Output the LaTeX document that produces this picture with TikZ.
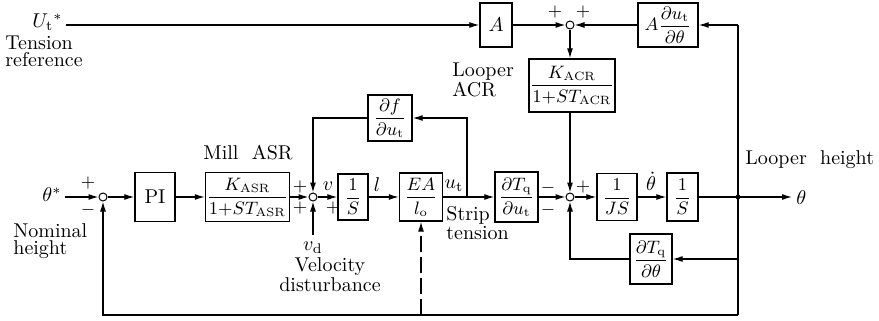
\documentclass[tikz,border=0pt]{standalone}
\usepackage{amsmath}
\usetikzlibrary{arrows.meta, positioning, calc}
\tikzset{
    block/.style={draw, rectangle, line width=0.7pt, inner sep=0.5pt, align=center, font=\small},
    sumj/.style={draw, circle, line width=0.5pt, inner sep=0pt, minimum size=4pt, fill=white},
    arrow/.style={-{Latex[length=5pt, width=3pt]}, line width=0.6pt},
    wire/.style={line width=0.6pt},
    sign/.style={inner sep=0pt, font=\small},
    lbl/.style={inner sep=0pt, align=left, font=\fontsize{10}{8.5}\selectfont}
}

\begin{document}
\begin{tikzpicture}[x=0.5pt, y=-0.5pt]
    \useasboundingbox (0,0) rectangle (879,321);

    % Tension reference path (top row)
    \node[block, minimum width=16pt, minimum height=22pt, font=\normalsize] (ablk) at (496,25) {$A$};
    \node[sumj] (sumD) at (570,25) {};
    \node[block, minimum width=30pt, minimum height=22pt] (adu) at (668,25) {$A\dfrac{\partial u_{\mathrm{t}}}{\partial\theta}$};
    \node[block, minimum width=42pt, minimum height=26.5pt] (acr) at (572,85.5) {$\dfrac{K_{\mathrm{ACR}}}{1{+}ST_{\mathrm{ACR}}}$};

    % Main loop (middle row)
    \node[sumj] (sumA) at (103,197) {};
    \node[block, minimum width=20pt, minimum height=24.5pt, font=\normalsize] (pi) at (155,197) {PI};
    \node[block, minimum width=39.5pt, minimum height=24.5pt] (asr) at (247.5,197) {$\dfrac{K_{\mathrm{ASR}}}{1{+}ST_{\mathrm{ASR}}}$};
    \node[sumj] (sumB) at (313,197) {};
    \node[block, minimum width=15pt, minimum height=23pt] (sint) at (353,197) {$\dfrac{1}{S}$};
    \node[block, minimum width=21.5pt, minimum height=24pt] (ea) at (421,197) {$\dfrac{EA}{l_{\mathrm{o}}}$};
    \node[block, minimum width=21.5pt, minimum height=25pt] (dtdu) at (516.5,197) {$\dfrac{\partial T_{\mathrm{q}}}{\partial u_{\mathrm{t}}}$};
    \node[sumj] (sumC) at (570,197) {};
    \node[block, minimum width=20pt, minimum height=23.5pt] (js) at (617,197) {$\dfrac{1}{JS}$};
    \node[block, minimum width=15.5pt, minimum height=24pt] (sth) at (682.5,197) {$\dfrac{1}{S}$};

    % Feedback blocks
    \node[block, minimum width=22pt, minimum height=23pt] (dfdu) at (390,118) {$\dfrac{\partial f}{\partial u_{\mathrm{t}}}$};
    \node[block, minimum width=21pt, minimum height=25pt] (dtdth) at (651,259) {$\dfrac{\partial T_{\mathrm{q}}}{\partial\theta}$};

    % Free ends and branch points
    \coordinate (uin) at (66,25);
    \coordinate (thin) at (65,197);
    \coordinate (tapR) at (738,25);
    \coordinate (tapM) at (738,197);
    \coordinate (tapQ) at (738,259);
    \coordinate (tapB) at (738,315);
    \coordinate (fbL) at (103,315);
    \coordinate (fbE) at (421,315);
    \coordinate (thout) at (792,197);
    \coordinate (utap) at (467,197);
    \coordinate (vdin) at (313,235);

    % Top row connectors
    \draw[arrow] (uin) -- (ablk);
    \draw[arrow] (ablk) -- (sumD);
    \draw[arrow] (adu) -- (sumD);
    \draw[arrow] (sumD) -- (sumD |- acr.north);
    \draw[arrow] (acr.south -| sumC) -- (sumC);
    \draw[arrow] (tapR) -- (adu);
    \draw[wire] (tapR) -- (tapB);

    % Forward path
    \foreach \u/\v in {thin/sumA, sumA/pi, pi/asr, asr/sumB, sumB/sint, sint/ea, ea/dtdu, dtdu/sumC, sumC/js, js/sth} {
        \draw[arrow] (\u) -- (\v);
    }
    \draw[wire] (sth) -- (tapM);
    \draw[arrow] (tapM) -- (thout);
    \fill (tapM) circle (1.2pt);

    % Feedback paths
    \draw[arrow] (utap) |- (dfdu);
    \draw[arrow] (dfdu) -| (sumB);
    \draw[arrow] (vdin) -- (sumB);
    \draw[arrow] (tapQ) -- (dtdth);
    \draw[arrow] (dtdth) -| (sumC);
    \draw[arrow] (tapB) -- (fbL) -- (sumA);
    \draw[arrow, dash pattern=on 8pt off 2.5pt] (fbE) -- (ea);

    % Signs at the summing points
    \foreach \pos/\s in {{(88,183)}/+, {(88,210)}/$-$, {(300,187)}/+, {(300,208)}/+, {(333,208)}/+,
                         {(548,188)}/$-$, {(548,210)}/$-$, {(583,187)}/+, {(555,12)}/+, {(583,12)}/+} {
        \node[sign] at \pos {\s};
    }

    % Signal names and captions
    \node[lbl, anchor=east] (ulbl) at (63,22) {$U_{\mathrm{t}}{}^{*}$};
    \node[lbl, anchor=west] (ucap) at (5,51) {Tension\\reference};
    \node[lbl, anchor=east] (thlbl) at (62,195) {$\theta^{*}$};
    \node[lbl, anchor=west] (thcap) at (13,241) {Nominal\\height};
    \node[lbl] (asrcap) at (248,153) {Mill\ \ ASR};
    \node[lbl] (vlbl) at (328,186) {$v$};
    \node[lbl] (vdlbl) at (313,248) {$v_{\mathrm{d}}$};
    \node[lbl, align=center] (vdcap) at (330,275) {Velocity\\disturbance};
    \node[lbl] (llbl) at (377,185) {$l$};
    \node[lbl] (utlbl) at (454,186) {$u_{\mathrm{t}}$};
    \node[lbl, anchor=west] (stcap) at (446,223) {Strip\\tension};
    \node[lbl, anchor=west] (acrcap) at (452,80) {Looper\\ACR};
    \node[lbl, anchor=south] (dthlbl) at (651,191) {$\dot{\theta}$};
    \node[lbl, anchor=west] (lhcap) at (745,160) {Looper\ \ height};
    \node[lbl, anchor=west] (thoutlbl) at (796,198) {$\theta$};
\end{tikzpicture}
\end{document}
